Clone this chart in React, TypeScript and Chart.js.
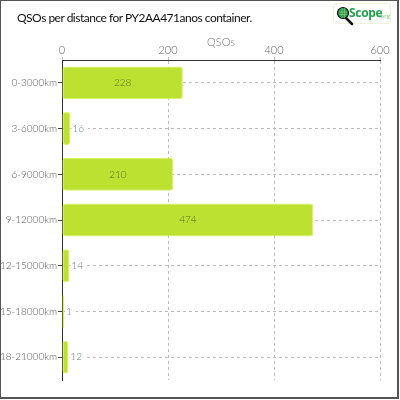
import React, { useEffect, useRef } from "react";
import { Chart, registerables } from "chart.js";

Chart.register(...registerables);

const categories = [
  "0-3000km",
  "3-6000km",
  "6-9000km",
  "9-12000km",
  "12-15000km",
  "15-18000km",
  "18-21000km",
];
const qsoValues = [228, 16, 210, 474, 14, 1, 12];
const xMin = 0;
const xMax = 600;
const xStep = 200;
const chartTitle = "QSOs per distance for PY2AA471anos container.";
const axisTitle = "QSOs";

const FONT = "Lato, 'Noto Sans', sans-serif";

const valueLabelPlugin = {
  id: "valueLabels",
  afterDatasetsDraw(chart: any) {
    const ctx = chart.ctx;
    const meta = chart.getDatasetMeta(0);
    const data = chart.data.datasets[0].data;
    ctx.save();
    ctx.font = `300 10px ${FONT}`;
    ctx.textBaseline = "middle";
    meta.data.forEach((bar: any, i: number) => {
      const text = String(data[i]);
      const w = ctx.measureText(text).width;
      const len = bar.x - bar.base;
      if (len > w + 12) {
        ctx.fillStyle = "#55702a";
        ctx.textAlign = "center";
        ctx.fillText(text, (bar.x + bar.base) / 2, bar.y);
      } else {
        const x0 = bar.x + 2;
        ctx.fillStyle = "#ffffff";
        ctx.fillRect(x0 - 1, bar.y - 6, w + 5, 12);
        ctx.fillStyle = "#5f7f8c";
        ctx.textAlign = "left";
        ctx.fillText(text, x0, bar.y);
      }
    });
    ctx.restore();
  },
};

export default function App() {
  const canvasRef = useRef<HTMLCanvasElement | null>(null);

  useEffect(() => {
    document.body.style.margin = "0";
    const canvas = canvasRef.current;
    if (!canvas) return;
    const chart = new Chart(canvas, {
      type: "bar",
      data: {
        labels: categories,
        datasets: [
          {
            label: axisTitle,
            data: qsoValues,
            backgroundColor: "#bde130",
            borderColor: "#dcf35c",
            borderWidth: 1,
            borderRadius: 3,
            borderSkipped: false,
            minBarLength: 2,
          },
        ],
      },
      options: {
        indexAxis: "y",
        animation: false,
        responsive: false,
        maintainAspectRatio: false,
        layout: { padding: { top: 36, right: 20, bottom: 20, left: 0 } },
        plugins: {
          legend: { display: false },
          tooltip: { enabled: false },
          title: { display: false },
        },
        scales: {
          x: {
            type: "linear",
            position: "top",
            min: xMin,
            max: xMax,
            ticks: {
              stepSize: xStep,
              color: "#666",
              padding: 0,
              font: { family: FONT, size: 11, weight: "300" },
            },
            title: {
              display: true,
              text: axisTitle,
              color: "#777",
              padding: { top: 0, bottom: 0 },
              font: { family: FONT, size: 11, weight: "300" },
            },
            grid: {
              color: "#bbbbbb",
              tickColor: "#bbbbbb",
              tickLength: 3,
            },
            border: { display: true, color: "#333", width: 1, dash: [3, 3] },
            afterFit: (scale: any) => {
              scale.height = 24;
            },
          },
          y: {
            type: "category",
            ticks: {
              color: "#555",
              padding: 1,
              font: { family: FONT, size: 10, weight: "300" },
            },
            grid: {
              offset: false,
              color: "#bbbbbb",
              tickColor: "#444",
              tickLength: 4,
            },
            border: { display: true, color: "#333", width: 1, dash: [3, 3] },
            afterFit: (scale: any) => {
              scale.width = 62;
            },
          },
        },
      },
      plugins: [valueLabelPlugin],
    } as any);
    return () => chart.destroy();
  }, []);

  return (
    <div style={{ position: "relative", width: 400, height: 400, background: "#fff", overflow: "hidden" }}>
      <canvas ref={canvasRef} width={400} height={400} style={{ position: "absolute", left: 0, top: 0, width: 400, height: 400 }} />
      <div
        style={{
          position: "absolute",
          left: 17,
          top: 10,
          fontFamily: FONT,
          fontWeight: 400,
          fontSize: 12,
          letterSpacing: -0.5,
          color: "#111",
          whiteSpace: "nowrap",
          lineHeight: "16px",
        }}
      >
        {chartTitle}
      </div>
      <div
        style={{
          position: "absolute",
          left: 333,
          top: 3,
          width: 58,
          height: 21,
          boxSizing: "border-box",
          border: "1px solid #eef3d8",
          borderRadius: 3,
          background: "#fff",
        }}
      >
        <svg width="18" height="20" style={{ position: "absolute", left: 2, top: 2 }}>
          <line x1="9" y1="11" x2="16" y2="18" stroke="#111" strokeWidth="2.5" strokeLinecap="round" />
          <circle cx="7" cy="7" r="5.5" fill="#2e9a4a" stroke="#111" strokeWidth="1.2" />
          <path d="M3 6 H11 M3 8.5 H11 M6 2 V12 M8.5 2 V12" stroke="#8fd08f" strokeWidth="0.6" />
        </svg>
        <span
          style={{
            position: "absolute",
            left: 15,
            top: 2,
            fontFamily: "'Open Sans', sans-serif",
            fontWeight: 700,
            fontSize: 12,
            color: "#22a04a",
            lineHeight: "14px",
            letterSpacing: -0.3,
          }}
        >
          Scope
        </span>
        <span
          style={{
            position: "absolute",
            left: 45,
            top: 8,
            fontFamily: "'Open Sans', sans-serif",
            fontSize: 6,
            color: "#7cc47c",
            lineHeight: "8px",
          }}
        >
          .org
        </span>
      </div>
      <div
        style={{
          position: "absolute",
          left: 0,
          top: 0,
          width: 399,
          height: 399,
          boxSizing: "border-box",
          borderStyle: "solid",
          borderColor: "#555",
          borderWidth: "1px 2px 2px 1px",
          pointerEvents: "none",
        }}
      />
    </div>
  );
}
